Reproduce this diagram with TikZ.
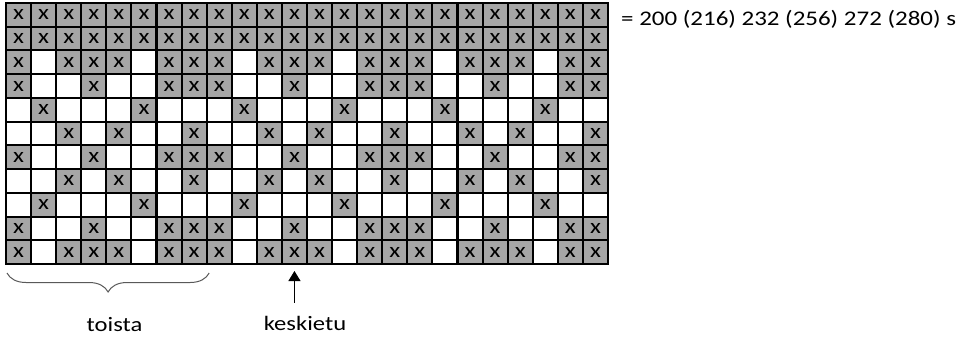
\documentclass[tikz,border=0pt]{standalone}
\usepackage{fontspec}
\setmainfont{Carlito}[FakeStretch=1.2]
\usetikzlibrary{arrows.meta,decorations.pathreplacing}

\definecolor{markgray}{RGB}{166,166,166}

\begin{document}
\begin{tikzpicture}[x=1pt, y=-1pt,
  cell/.style={draw, line width=2pt, minimum width=25.08pt, minimum height=23.73pt,
    inner sep=0pt, outer sep=0pt, font=\fontsize{21}{21}\selectfont},
  marked/.style={cell, fill=markgray},
  plain/.style={cell, fill=white},
  caption/.style={anchor=base, inner sep=0pt, font=\fontsize{20.5}{24}\selectfont},
  brace/.style={decorate, decoration={brace, mirror, amplitude=19pt}, line width=1pt, draw=black!65}
]
  \useasboundingbox (0,0) rectangle (961,338);

  % chart rows, 1 = marked stitch
  \foreach \row [count=\r] in {%
    {1,1,1,1,1,1,1,1,1,1,1,1,1,1,1,1,1,1,1,1,1,1,1,1},%
    {1,1,1,1,1,1,1,1,1,1,1,1,1,1,1,1,1,1,1,1,1,1,1,1},%
    {1,0,1,1,1,0,1,1,1,0,1,1,1,0,1,1,1,0,1,1,1,0,1,1},%
    {1,0,0,1,0,0,1,1,1,0,0,1,0,0,1,1,1,0,0,1,0,0,1,1},%
    {0,1,0,0,0,1,0,0,0,1,0,0,0,1,0,0,0,1,0,0,0,1,0,0},%
    {0,0,1,0,1,0,0,1,0,0,1,0,1,0,0,1,0,0,1,0,1,0,0,1},%
    {1,0,0,1,0,0,1,1,1,0,0,1,0,0,1,1,1,0,0,1,0,0,1,1},%
    {0,0,1,0,1,0,0,1,0,0,1,0,1,0,0,1,0,0,1,0,1,0,0,1},%
    {0,1,0,0,0,1,0,0,0,1,0,0,0,1,0,0,0,1,0,0,0,1,0,0},%
    {1,0,0,1,0,0,1,1,1,0,0,1,0,0,1,1,1,0,0,1,0,0,1,1},%
    {1,0,1,1,1,0,1,1,1,0,1,1,1,0,1,1,1,0,1,1,1,0,1,1}}{%
    \foreach \v [count=\c] in \row {
      \ifnum\v=1\relax
        \node[marked] (cell-\r-\c) at ({6+(\c-0.5)*25.083}, {3+(\r-0.5)*23.727}) {x};
      \else
        \node[plain] (cell-\r-\c) at ({6+(\c-0.5)*25.083}, {3+(\r-0.5)*23.727}) {};
      \fi
    }
  }

  \node[anchor=base west, inner sep=0pt, font=\fontsize{20.8}{24}\selectfont] (sizes) at (621,25)
    {= 200 (216) 232 (256) 272 (280) s};

  \node[caption] (toista) at (114.5,331) {toista};
  \node[caption] (keskietu) at (305,330) {keskietu};

  % repeat and centre front marks
  \coordinate (tip) at ([yshift=-7pt]cell-11-12.south);
  \draw[-{Triangle[length=10pt,width=12pt]}, line width=1pt, shorten <=13pt]
    (keskietu.north -| tip) -- (tip);
  \draw[brace] ([xshift=1pt,yshift=-9pt]cell-11-1.south west)
    -- ([xshift=2.5pt,yshift=-9pt]cell-11-8.south east);
\end{tikzpicture}
\end{document}
